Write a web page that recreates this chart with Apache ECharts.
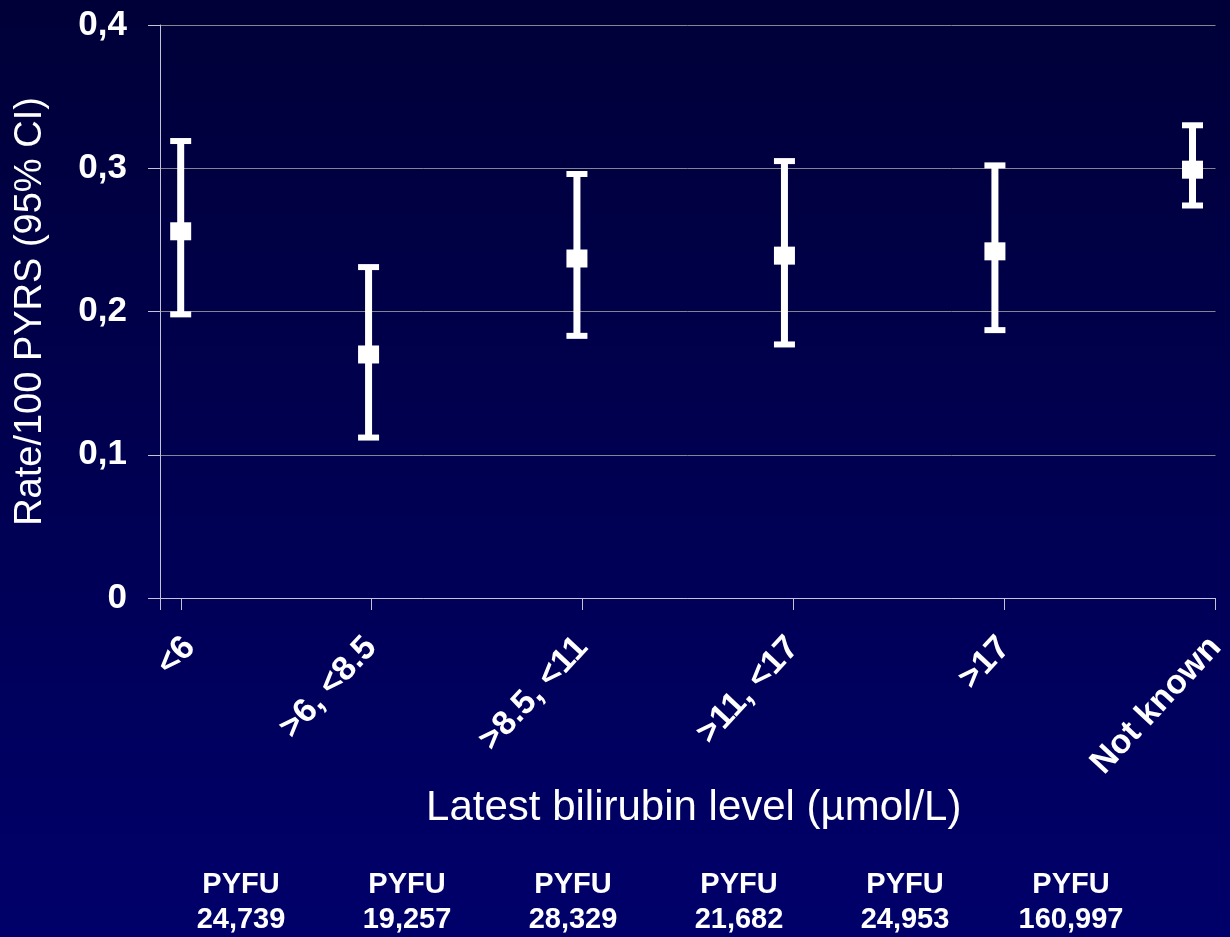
<!DOCTYPE html>
<html>
<head>
<meta charset="utf-8">
<script src="https://cdn.jsdelivr.net/npm/echarts@6/dist/echarts.min.js"></script>
<style>
html,body{margin:0;padding:0;background:#000040;}
#chart{width:1230px;height:937px;}
</style>
</head>
<body>
<div id="chart"></div>
<script>
// ---- data ----
const categories = ['<6', '>6, <8.5', '>8.5, <11', '>11, <17', '>17', 'Not known'];
const rate   = [0.256, 0.170, 0.237, 0.239, 0.242, 0.299];
const ciLow  = [0.198, 0.112, 0.183, 0.177, 0.187, 0.274];
const ciHigh = [0.319, 0.231, 0.296, 0.305, 0.302, 0.330];
const pyfu   = [24739, 19257, 28329, 21682, 24953, 160997];
const yTicks = [0, 0.1, 0.2, 0.3, 0.4];

// ---- layout (axis units: category slots on a 0..5 value axis) ----
const slot = [0.098, 0.988, 1.975, 2.958, 3.955, 4.891];
const labelSlot = [0.14, 1, 2, 3, 4, 5];
const tickSlot = [0, 0.1, 1, 2, 3, 4, 5];

const FONT = '"Liberation Sans", Arial, sans-serif';
const chart = echarts.init(document.getElementById('chart'), null, {renderer: 'canvas'});

const pointData = rate.map((v, i) => [slot[i], v]);
const barData = rate.map((v, i) => [slot[i], ciLow[i], ciHigh[i]]);

const option = {
  backgroundColor: {
    type: 'linear', x: 0, y: 0, x2: 0, y2: 1,
    colorStops: [{offset: 0, color: '#000038'}, {offset: 1, color: '#00006a'}]
  },
  animation: false,
  textStyle: {fontFamily: FONT},
  grid: [
    {left: 160, top: 25, width: 1058, height: 573, containLabel: false},
    {left: 158, top: 860, width: 996, height: 2, containLabel: false}
  ],
  xAxis: [
    {
      type: 'value', gridIndex: 0, min: 0, max: 5,
      axisLine: {show: true, onZero: false, lineStyle: {color: '#c4c4d4', width: 1}},
      axisTick: {show: true, inside: false, length: 12, customValues: tickSlot, lineStyle: {color: '#c4c4d4', width: 1}},
      splitLine: {show: false},
      axisLabel: {
        customValues: labelSlot, rotate: 47, margin: 44,
        color: '#ffffff', fontSize: 34, fontWeight: 'bold', fontFamily: FONT,
        formatter: (v) => {
          const i = labelSlot.findIndex(s => Math.abs(s - v) < 1e-6);
          return i >= 0 ? categories[i] : '';
        }
      },
      name: 'Latest bilirubin level (\u00b5mol/L)',
      nameLocation: 'middle', nameGap: 173,
      nameTextStyle: {color: '#ffffff', fontSize: 42, fontFamily: FONT, padding: [0, 0, 0, 12]}
    },
    {
      type: 'category', gridIndex: 1, data: pyfu.map(v => 'PYFU\n' + v.toLocaleString('en-US')),
      boundaryGap: true,
      axisLine: {show: false}, axisTick: {show: false}, splitLine: {show: false},
      axisLabel: {
        interval: 0, margin: 7, color: '#ffffff', fontSize: 29, fontWeight: 'bold',
        fontFamily: FONT, lineHeight: 35, align: 'center'
      }
    }
  ],
  yAxis: [
    {
      type: 'value', gridIndex: 0, min: yTicks[0], max: yTicks[yTicks.length - 1], interval: 0.1,
      axisLine: {show: true, lineStyle: {color: '#c4c4d4', width: 1}},
      axisTick: {show: true, inside: false, length: 12, lineStyle: {color: '#c4c4d4', width: 1}},
      splitLine: {show: true, lineStyle: {color: '#85858f', width: 1}},
      axisLabel: {
        margin: 33, color: '#ffffff', fontSize: 35, fontWeight: 'bold', fontFamily: FONT,
        formatter: v => (Math.round(v * 10) / 10).toString().replace('.', ',')
      },
      name: 'Rate/100 PYRS (95% CI)',
      nameLocation: 'middle', nameGap: 110, nameRotate: 90,
      nameTextStyle: {color: '#ffffff', fontSize: 38, fontFamily: FONT}
    },
    {
      type: 'value', gridIndex: 1, show: false, min: 0, max: 1
    }
  ],
  series: [
    {
      type: 'custom', xAxisIndex: 0, yAxisIndex: 0, z: 3,
      data: barData,
      renderItem: (params, api) => {
        const x = api.value(0);
        const pLo = api.coord([x, api.value(1)]);
        const pHi = api.coord([x, api.value(2)]);
        const lw = 7, capW = 21, capH = 6;
        return {
          type: 'group',
          children: [
            {type: 'rect', shape: {x: pHi[0] - lw / 2, y: pHi[1], width: lw, height: pLo[1] - pHi[1]}, style: {fill: '#ffffff'}},
            {type: 'rect', shape: {x: pHi[0] - capW / 2, y: pHi[1] - capH / 2, width: capW, height: capH}, style: {fill: '#ffffff'}},
            {type: 'rect', shape: {x: pLo[0] - capW / 2, y: pLo[1] - capH / 2, width: capW, height: capH}, style: {fill: '#ffffff'}}
          ]
        };
      }
    },
    {
      type: 'scatter', xAxisIndex: 0, yAxisIndex: 0, z: 4,
      data: pointData,
      symbol: 'rect', symbolSize: [21, 18],
      itemStyle: {color: '#ffffff', opacity: 1}
    }
  ]
};
chart.setOption(option);
</script>
</body>
</html>
